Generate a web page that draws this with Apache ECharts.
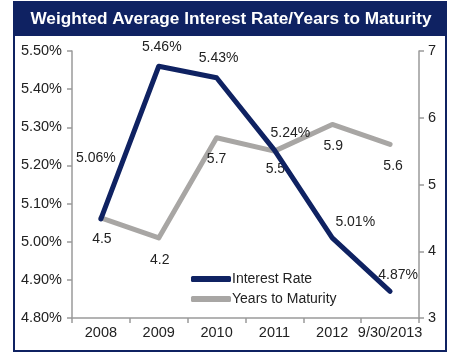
<!DOCTYPE html>
<html>
<head>
<meta charset="utf-8">
<style>
  html, body { margin: 0; padding: 0; background: #ffffff; }
  #chart { width: 451px; height: 354px; }
</style>
<script src="https://cdn.jsdelivr.net/npm/echarts@6/dist/echarts.min.js"></script>
</head>
<body>
<div id="chart"></div>
<script>
// Reporting periods
const periods = ['2008', '2009', '2010', '2011', '2012', '9/30/2013'];
// Weighted average interest rate, percent
const interestRate = [5.06, 5.46, 5.43, 5.24, 5.01, 4.87];
// Weighted average years to maturity
const yearsToMaturity = [4.5, 4.2, 5.7, 5.5, 5.9, 5.6];

// Label placement relative to each point (pixels)
const rateLabelShift = [[-5, -61], [3, -19], [2, -20], [16, -17], [23, -16], [8, -16]];
const yearsLabelShift = [[1, 21], [1, 22], [0, 21], [1, 18], [1, 22], [3, 22]];

const NAVY = '#0f2262';
const GREY = '#a8a6a4';
const FONT = '"Liberation Sans", Arial, sans-serif';

const chart = echarts.init(document.getElementById('chart'), null, { renderer: 'canvas' });

function labelled(values, shifts, fmt) {
  return values.map((v, i) => ({
    value: v,
    label: { offset: shifts[i], formatter: fmt(v) }
  }));
}

const axisLine = { show: true, lineStyle: { color: '#9a9a9a', width: 1.5 } };
const axisTick = { show: true, length: 5, lineStyle: { color: '#9a9a9a', width: 1.5 } };

chart.setOption({
  animation: false,
  backgroundColor: '#ffffff',
  graphic: [
    {
      type: 'rect',
      shape: { x: 13, y: 2, width: 434, height: 34 },
      style: { fill: NAVY },
      z: 0
    },
    {
      type: 'rect',
      shape: { x: 14, y: 2, width: 432, height: 349 },
      style: { fill: 'none', stroke: NAVY, lineWidth: 2 },
      z: 0
    },
    {
      type: 'text',
      x: 231, y: 19,
      style: {
        text: 'Weighted Average Interest Rate/Years to Maturity',
        fill: '#ffffff',
        font: 'bold 17.2px ' + FONT,
        align: 'center',
        verticalAlign: 'middle'
      },
      z: 1
    }
  ],
  grid: { left: 72, right: 32, top: 51, bottom: 36 },
  legend: {
    orient: 'vertical',
    left: 186,
    top: 267,
    itemWidth: 40,
    itemHeight: 6,
    itemGap: 6,
    icon: 'roundRect',
    textStyle: { fontFamily: FONT, fontSize: 14, color: '#222222', padding: [0, 0, 0, -4] },
    data: ['Interest Rate', 'Years to Maturity']
  },
  xAxis: {
    type: 'category',
    data: periods,
    boundaryGap: true,
    axisLine: axisLine,
    axisTick: axisTick,
    axisLabel: {
      color: '#222222', fontFamily: FONT, fontSize: 14.5, margin: 7,
      interval: 0, hideOverlap: false
    },
    splitLine: { show: false }
  },
  yAxis: [
    {
      type: 'value',
      min: 4.8,
      max: 5.5,
      interval: 0.1,
      axisLine: axisLine,
      axisTick: axisTick,
      axisLabel: {
        color: '#222222', fontFamily: FONT, fontSize: 14.5, margin: 10,
        formatter: v => v.toFixed(2) + '%'
      },
      splitLine: { show: false }
    },
    {
      type: 'value',
      min: 3,
      max: 7,
      interval: 1,
      position: 'right',
      axisLine: axisLine,
      axisTick: axisTick,
      axisLabel: { color: '#222222', fontFamily: FONT, fontSize: 14.5, margin: 9 },
      splitLine: { show: false }
    }
  ],
  series: [
    {
      name: 'Years to Maturity',
      type: 'line',
      yAxisIndex: 1,
      data: labelled(yearsToMaturity, yearsLabelShift, v => String(v)),
      symbol: 'circle',
      symbolSize: 1,
      showSymbol: true,
      itemStyle: { color: GREY },
      lineStyle: { color: GREY, width: 5, join: 'round', cap: 'round' },
      label: {
        show: true, position: 'inside',
        color: '#222222', fontFamily: FONT, fontSize: 14
      },
      z: 2
    },
    {
      name: 'Interest Rate',
      type: 'line',
      yAxisIndex: 0,
      data: labelled(interestRate, rateLabelShift, v => v.toFixed(2) + '%'),
      symbol: 'circle',
      symbolSize: 1,
      showSymbol: true,
      itemStyle: { color: NAVY },
      lineStyle: { color: NAVY, width: 5, join: 'round', cap: 'round' },
      label: {
        show: true, position: 'inside',
        color: '#222222', fontFamily: FONT, fontSize: 14
      },
      z: 3
    }
  ]
});
</script>
</body>
</html>
